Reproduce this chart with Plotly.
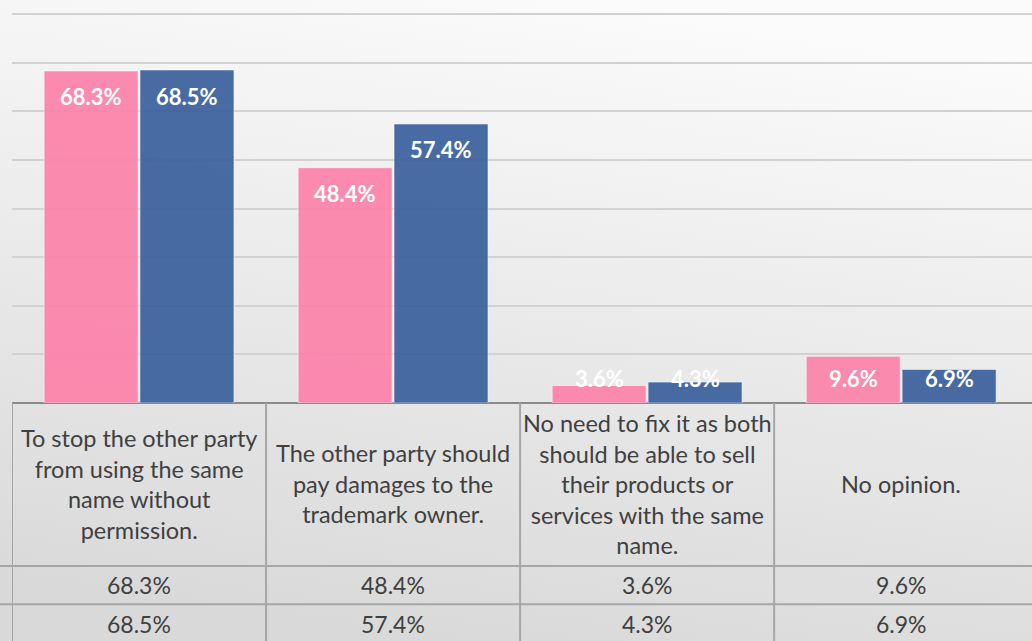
import base64
import plotly.graph_objects as go

# Survey responses: what should happen when another party uses the same name
categories = [
    "To stop the other party<br>from using the same<br>name without<br>permission.",
    "The other party should<br>pay damages to the<br>trademark owner.",
    "No need to fix it as both<br>should be able to sell<br>their products or<br>services with the same<br>name.",
    "No opinion.",
]
series_a = [68.3, 48.4, 3.6, 9.6]
series_b = [68.5, 57.4, 4.3, 6.9]
series_names = ["Series A", "Series B"]

PINK = "rgb(253,131,171)"
BLUE = "rgb(60,97,158)"
TEXT = "#404040"
FONT = "Lato"

W, H = 1032, 641
M_L, M_B = 12, 238
PLOT_H = H - M_B          # height of the bar area in pixels
PLOT_W = W - M_L
Y_MAX = 82.9
BARGAP = 0.245
X_RANGE = [-0.5, 3.515]


def py(px_from_top):
    """Paper y for a pixel row measured from the top of the figure."""
    return (PLOT_H - px_from_top) / PLOT_H


def px_x(px_from_left):
    """Paper x for a pixel column measured from the left of the figure."""
    return (px_from_left - M_L) / PLOT_W


idx = list(range(len(categories)))

fig = go.Figure()
for vals, color, name in ((series_a, PINK, series_names[0]), (series_b, BLUE, series_names[1])):
    fig.add_trace(go.Bar(
        x=idx, y=vals, name=name,
        marker=dict(color=color, line=dict(color="rgba(255,255,255,0.55)", width=1)),
        opacity=0.93,
        hoverinfo="y",
    ))

# value labels inside the top of each bar (kept above the base for short bars)
slot = (1 - BARGAP) / 2
px_per_unit = PLOT_H / Y_MAX
annotations = []
for k, vals in enumerate((series_a, series_b)):
    offset = (k - 0.5) * slot
    for i, v in enumerate(vals):
        y_lab = max(v - 26 / px_per_unit, 25 / px_per_unit)
        annotations.append(dict(
            x=i + offset, y=y_lab, xref="x", yref="y",
            text=f"{v:.1f}%", showarrow=False,
            font=dict(family=FONT, size=22, color="white", weight="bold"),
            xanchor="center", yanchor="middle",
        ))

# data table beneath the axis
ROW1_BOTTOM = 566
ROW2_BOTTOM = 604.3
TABLE_BOTTOM = 643
for i, cat in enumerate(categories):
    annotations.append(dict(
        x=i, y=py((PLOT_H + ROW1_BOTTOM) / 2 - 1), xref="x", yref="paper",
        text=cat, showarrow=False, align="center",
        font=dict(family=FONT, size=23.5, color=TEXT),
        xanchor="center", yanchor="middle",
    ))
    annotations.append(dict(
        x=i, y=py((ROW1_BOTTOM + ROW2_BOTTOM) / 2), xref="x", yref="paper",
        text=f"{series_a[i]:.1f}%", showarrow=False,
        font=dict(family=FONT, size=23, color=TEXT),
        xanchor="center", yanchor="middle",
    ))
    annotations.append(dict(
        x=i, y=py((ROW2_BOTTOM + TABLE_BOTTOM) / 2), xref="x", yref="paper",
        text=f"{series_b[i]:.1f}%", showarrow=False,
        font=dict(family=FONT, size=23, color=TEXT),
        xanchor="center", yanchor="middle",
    ))

shapes = []
grid_line = dict(color="#A6A6A6", width=2)
for yb in (ROW1_BOTTOM, ROW2_BOTTOM):
    shapes.append(dict(type="line", xref="paper", yref="paper",
                       x0=px_x(0), x1=1, y0=py(yb), y1=py(yb), line=grid_line))
for i in range(len(categories)):
    shapes.append(dict(type="line", xref="x", yref="paper",
                       x0=i - 0.5, x1=i - 0.5, y0=py(PLOT_H), y1=py(TABLE_BOTTOM + 4),
                       line=grid_line))

# soft grey gradient behind everything
svg = (
    '<svg xmlns="http://www.w3.org/2000/svg" width="100" height="100" preserveAspectRatio="none">'
    '<defs><linearGradient id="g" x1="0.62" y1="0" x2="0.38" y2="1">'
    '<stop offset="0" stop-color="#FBFBFB"/><stop offset="1" stop-color="#D9D9D9"/>'
    '</linearGradient></defs><rect width="100" height="100" fill="url(#g)"/></svg>'
)
bg_src = "data:image/svg+xml;base64," + base64.b64encode(svg.encode()).decode()

fig.update_layout(
    width=W, height=H,
    margin=dict(l=M_L, r=0, t=0, b=M_B, pad=0),
    barmode="group", bargap=BARGAP, bargroupgap=0.02,
    showlegend=False,
    paper_bgcolor="#EBEBEB", plot_bgcolor="rgba(0,0,0,0)",
    font=dict(family=FONT, color=TEXT),
    xaxis=dict(range=X_RANGE, showticklabels=False, showgrid=False, zeroline=False,
               ticks="", showline=False, fixedrange=True),
    yaxis=dict(range=[0, Y_MAX], dtick=10, showticklabels=False, ticks="",
               showgrid=True, gridcolor="#D2D2D2", gridwidth=2,
               zeroline=True, zerolinecolor="#8A8A8A", zerolinewidth=2,
               showline=False, fixedrange=True),
    annotations=annotations,
    shapes=shapes,
    images=[dict(source=bg_src, xref="paper", yref="paper",
                 x=px_x(0), y=py(0), sizex=W / PLOT_W, sizey=H / PLOT_H,
                 xanchor="left", yanchor="top", sizing="stretch", layer="below")],
)

fig.write_html("out.html")
